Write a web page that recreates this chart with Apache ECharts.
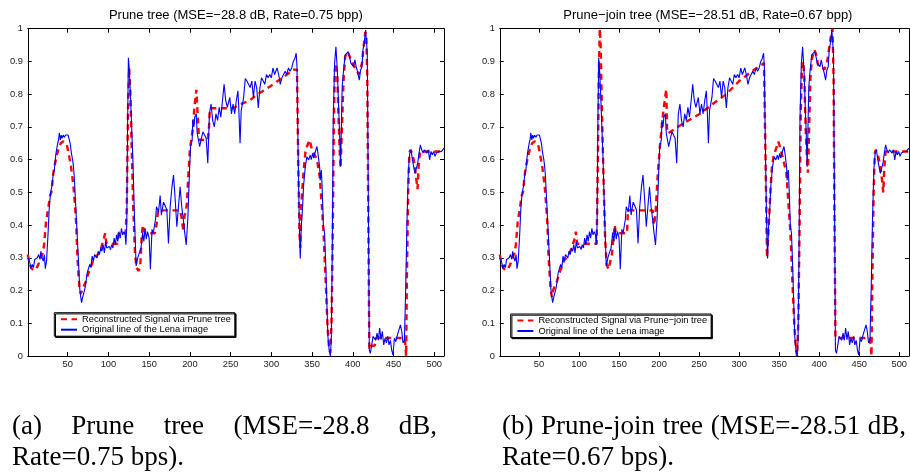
<!DOCTYPE html>
<html>
<head>
<meta charset="utf-8">
<script src="https://cdn.jsdelivr.net/npm/echarts@6/dist/echarts.min.js"></script>
<style>html,body{margin:0;padding:0;background:#fff;}#c{width:910px;height:472px;}</style>
</head>
<body>
<div id="c"></div>
<script>
// ---- data ----
const xTickValues = [50,100,150,200,250,300,350,400,450,500];
const panelTitles = ['Prune tree (MSE=\u221228.8 dB, Rate=0.75 bpp)', 'Prune\u2212join tree (MSE=\u221228.51 dB, Rate=0.67 bpp)'];
const reconNames = ['Reconstructed Signal via Prune tree', 'Reconstructed Signal via Prune\u2212join tree'];
const origName = 'Original line of the Lena image';

// Original Lena line (same in both panels)
const origX = [1,3,5,6.5,8,9.5,11,12.7,14.3,16,17,18.5,20,21.3,22.5,24,25.8,27.4,29,30.7,32,33.6,35.6,37.7,38.8,39.7,41,42,43,44.5,46,47.5,49,50.5,52,53,54.5,56,57,58,59,61,63,64.8,66,67,68,69,70,71.5,72.5,74,75.5,77,78.5,80,81.5,83,84.5,86,87.5,89,90.5,92,93.5,95,96.5,98,99.5,101,102.5,104,105.5,107,108.5,110,111.5,113,114.5,116,117.5,119,120.5,121.5,122.5,123.5,124.5,125.5,127,128.5,130,132,134,136,138,140,142,143.5,145,146.5,148,150,151.5,153.5,155,157.8,159,160.5,161.5,163.5,165,167.6,169.5,171.7,173.7,175.8,177.9,179.9,182,184,186,188,190,192,193.5,195.5,197.5,199.6,200.8,202.8,203.6,204.9,206,207.8,209,210.5,212,213.7,216,218,220,222,224,226,228,230,232,234,236,238,240,242,244,246,249,251,253,255,257,259,260,261.6,263,266,268,270,272,274,276,278,280,282,284,286,288,290,292,294,296,298,300,302,304,307,309,311,313,315,317,319,321,323,325,327,329,330.5,331.5,332.3,333.5,334.7,335.5,336.8,338.4,339.6,341.7,343.7,345.8,347.8,349,350.7,351.9,354,356,357.2,359.3,360,361.4,362.3,364,365.4,367,368.2,369.5,371,372.4,373.6,374.8,376,377.7,379.3,381,382.6,383.8,385,385.9,387,388.7,390.7,392.8,394.4,396,397.7,399.3,401,402.6,404.2,406.3,408,409.6,411.3,412.5,414,415.8,416.6,417.8,419,420.3,421.6,423.2,424.9,426.5,428,429.8,431.4,433,434.7,436.3,438,439.6,441.3,442.9,444.5,446.2,447.8,449.4,451.1,452.7,454.3,456.4,458.5,460.1,461.7,463.4,465,466.6,468.3,469.9,471.5,473.2,474.8,476.4,478,479.7,481.3,483,484.6,486.2,487.8,489.5,491,492.7,494.4,496,497.7,499.3,501,502.6,504.2,505.8,507.5,509,510.7,512];
const origY = [0.30,0.29,0.267,0.28,0.27,0.295,0.29,0.30,0.31,0.295,0.32,0.30,0.29,0.31,0.267,0.29,0.37,0.456,0.50,0.52,0.55,0.57,0.62,0.65,0.66,0.682,0.66,0.675,0.665,0.675,0.668,0.675,0.67,0.675,0.67,0.65,0.62,0.60,0.58,0.55,0.50,0.40,0.30,0.205,0.18,0.163,0.175,0.17,0.195,0.21,0.205,0.255,0.25,0.28,0.27,0.305,0.29,0.31,0.316,0.30,0.32,0.31,0.33,0.32,0.34,0.315,0.35,0.33,0.325,0.335,0.325,0.34,0.33,0.36,0.34,0.37,0.35,0.38,0.36,0.39,0.37,0.38,0.37,0.34,0.40,0.70,0.911,0.88,0.80,0.70,0.60,0.42,0.275,0.30,0.316,0.33,0.377,0.35,0.39,0.357,0.38,0.36,0.265,0.387,0.375,0.417,0.456,0.46,0.44,0.49,0.43,0.47,0.46,0.447,0.344,0.456,0.515,0.553,0.476,0.395,0.456,0.517,0.456,0.415,0.38,0.339,0.42,0.568,0.64,0.66,0.721,0.70,0.73,0.74,0.68,0.66,0.64,0.66,0.685,0.68,0.665,0.589,0.74,0.77,0.72,0.70,0.74,0.72,0.76,0.73,0.78,0.83,0.78,0.76,0.79,0.74,0.77,0.74,0.78,0.81,0.76,0.65,0.75,0.79,0.848,0.84,0.84,0.82,0.84,0.79,0.84,0.82,0.758,0.82,0.85,0.84,0.83,0.86,0.85,0.86,0.85,0.88,0.86,0.88,0.86,0.83,0.85,0.86,0.87,0.86,0.88,0.87,0.88,0.90,0.91,0.925,0.884,0.72,0.52,0.364,0.298,0.395,0.456,0.52,0.578,0.609,0.599,0.614,0.60,0.619,0.605,0.624,0.64,0.62,0.578,0.537,0.568,0.52,0.395,0.375,0.263,0.16,0.059,0.018,0.0,0.048,0.314,0.72,0.894,0.945,0.874,0.762,0.68,0.578,0.69,0.823,0.874,0.92,0.915,0.93,0.915,0.894,0.894,0.884,0.905,0.884,0.864,0.843,0.874,0.884,0.935,0.955,0.996,1.0,0.925,0.52,0.018,0.008,0.01,0.06,0.064,0.048,0.07,0.048,0.085,0.05,0.075,0.034,0.054,0.04,0.06,0.034,0.048,0.018,0.003,0.054,0.044,0.06,0.064,0.095,0.075,0.04,0.048,0.211,0.416,0.568,0.619,0.63,0.599,0.578,0.558,0.56,0.589,0.619,0.645,0.63,0.62,0.63,0.625,0.62,0.63,0.599,0.625,0.615,0.625,0.61,0.62,0.615,0.625,0.62,0.625,0.63,0.635];

// Reconstruction, prune tree (panel a)
const pruneX = [1,3,5,8,11,14,17,19.5,21,23.4,26,28.3,30,32.4,35,37.3,39,41.4,44.7,47,49,51,54,57,59,60.5,62,64.3,66,67.5,69,72,75,78,81,84,87,91,94,96,97.5,100,106,111,112.5,116,121,122.5,124,125.4,127,128.6,130.5,132.7,134.5,136.8,139,141,142.5,144,147,157,159,161,170,180,188,190,192,193.5,195,196.5,198,200,202.8,204,205.5,207,208,209,210,211,212,222,223.5,224.5,253,263,273,283,294,305,315,323,326,331.5,333,334.5,335.5,337.2,339.5,341.7,343.7,347,350,352,356,359.3,362,364,367.4,369,371,372.4,374,375.6,376.8,378,379.3,381,382.6,384.3,385,386.7,388.7,390.7,393.6,396,398.9,401.8,405,407.1,409.2,411.3,413.3,415.4,416.6,417.8,419,420.3,422,427,428.5,440,450,460,464,465.5,466.5,468,469.5,470.7,472.8,475.6,478,479.5,481.3,483,512];
const pruneY = [0.31,0.285,0.27,0.262,0.265,0.28,0.30,0.315,0.34,0.41,0.45,0.49,0.50,0.56,0.595,0.62,0.635,0.65,0.656,0.655,0.645,0.62,0.58,0.52,0.46,0.40,0.30,0.21,0.19,0.20,0.21,0.225,0.25,0.27,0.29,0.30,0.31,0.33,0.355,0.375,0.345,0.342,0.343,0.343,0.375,0.375,0.375,0.45,0.75,0.88,0.80,0.63,0.45,0.31,0.27,0.26,0.27,0.375,0.40,0.38,0.375,0.375,0.40,0.445,0.445,0.445,0.445,0.42,0.38,0.43,0.44,0.47,0.55,0.63,0.68,0.70,0.76,0.79,0.813,0.76,0.72,0.67,0.66,0.66,0.70,0.757,0.757,0.77,0.78,0.80,0.816,0.835,0.852,0.867,0.875,0.875,0.60,0.38,0.33,0.48,0.56,0.62,0.64,0.66,0.63,0.62,0.60,0.55,0.46,0.38,0.19,0.09,0.02,0.01,0.11,0.416,0.72,0.874,0.894,0.853,0.72,0.60,0.575,0.70,0.843,0.915,0.93,0.925,0.90,0.884,0.874,0.86,0.864,0.894,0.945,0.99,0.98,0.85,0.45,0.02,0.03,0.032,0.055,0.055,0.055,0.055,0.055,0.0,0.25,0.50,0.62,0.63,0.62,0.59,0.54,0.51,0.60,0.625,0.625];

// Reconstruction, prune-join tree (panel b)
const joinX = [1,3,5,8,11,14,17,19.5,21,23.4,26,28.3,30,32.4,35,37.3,39,41.4,44.7,47,49,51,54,57,59,60.5,62,64.3,66,67.5,69,72,75,78,81,84,87,91,94,96,97.5,100,110,122,123.5,125,126,127,128.6,130.5,132.7,134.5,136.8,139,141,143,144.5,146,152,160,161,175,192,193.6,195.5,197,198.5,201,204,207,209,210,211,230,251,267,284,300,316,331,333,334.8,337,339,341,343,345,349,352,355,357,359,362,364,367,369,371,372.4,374,375.6,377,378.5,380,381.5,383,385,386,387.5,389,391,394,396.5,398.5,401,404,406.5,408.5,410,413,415.5,416.6,418,419,420.3,430,440,450,463.5,465.3,466.5,468,469.5,470.7,472.8,475.6,478,480,481.5,483,512];
const joinY = [0.31,0.285,0.27,0.262,0.265,0.28,0.30,0.315,0.34,0.41,0.45,0.49,0.50,0.56,0.595,0.62,0.635,0.65,0.656,0.655,0.645,0.62,0.58,0.52,0.46,0.40,0.30,0.21,0.18,0.20,0.21,0.225,0.25,0.27,0.29,0.30,0.31,0.33,0.355,0.38,0.345,0.342,0.343,0.343,0.60,0.90,1.0,0.95,0.75,0.55,0.35,0.28,0.265,0.27,0.31,0.36,0.40,0.375,0.375,0.375,0.445,0.445,0.445,0.40,0.43,0.50,0.56,0.64,0.72,0.78,0.815,0.69,0.68,0.71,0.74,0.77,0.80,0.84,0.87,0.895,0.60,0.30,0.40,0.50,0.58,0.61,0.625,0.655,0.63,0.60,0.58,0.56,0.45,0.38,0.20,0.09,0.02,0.0,0.11,0.42,0.75,0.88,0.90,0.85,0.70,0.59,0.56,0.70,0.85,0.91,0.935,0.92,0.89,0.88,0.88,0.875,0.88,0.90,0.95,0.99,1.0,0.85,0.45,0.055,0.055,0.055,0.055,0.055,0.0,0.25,0.50,0.62,0.63,0.62,0.59,0.55,0.50,0.58,0.625,0.625];

// captions (word-justified first lines)
const captionA1 = ['(a)', 'Prune', 'tree', '(MSE=-28.8', 'dB,'];
const captionA2 = 'Rate=0.75 bps).';
const captionB1 = ['(b)', 'Prune-join', 'tree', '(MSE=-28.51', 'dB,'];
const captionB2 = 'Rate=0.67 bps).';

// ---- layout ----
const zip = (xs, ys) => xs.map((x, i) => [x, ys[i]]);
const SANS = '"Liberation Sans", Arial, Helvetica, sans-serif';
const SERIF = '"Liberation Serif", "Times New Roman", serif';
const grids = [
  {left: 27.8, top: 28.7, width: 416.2, height: 327.3},
  {left: 499.8, top: 28.7, width: 416.2, height: 327.3}
];
const axisLineStyle = {color: '#000', width: 1};
const labelStyle = {fontSize: 9.3, color: '#1a1a1a', fontFamily: SANS};

const xAxes = [], yAxes = [];
grids.forEach((g, gi) => {
  ['bottom', 'top'].forEach(pos => {
    xAxes.push({
      type: 'value', gridIndex: gi, position: pos, min: 1, max: 512,
      axisLine: {show: true, lineStyle: axisLineStyle, onZero: false},
      axisTick: {show: true, inside: true, length: 4, lineStyle: axisLineStyle, customValues: xTickValues},
      axisLabel: {show: pos === 'bottom', margin: 4, customValues: xTickValues, ...labelStyle},
      splitLine: {show: false}
    });
  });
  ['left', 'right'].forEach(pos => {
    yAxes.push({
      type: 'value', gridIndex: gi, position: pos, min: 0, max: 1, interval: 0.1,
      axisLine: {show: true, lineStyle: axisLineStyle, onZero: false},
      axisTick: {show: true, inside: true, length: 4, lineStyle: axisLineStyle},
      axisLabel: {show: pos === 'left', margin: 5, formatter: v => String(parseFloat(v.toFixed(1))), ...labelStyle},
      splitLine: {show: false}
    });
  });
});

const reconData = [zip(pruneX, pruneY), zip(joinX, joinY)];
const origData = zip(origX, origY);
const series = [];
[0, 1].forEach(gi => {
  series.push({
    name: reconNames[gi], type: 'line', xAxisIndex: gi * 2, yAxisIndex: gi * 2,
    data: reconData[gi], symbol: 'none', showSymbol: false, z: 2,
    lineStyle: {color: '#ff0000', width: 2.4, type: [6, 4.5]}, itemStyle: {color: '#ff0000'}
  });
  series.push({
    name: origName, type: 'line', xAxisIndex: gi * 2, yAxisIndex: gi * 2,
    data: origData, symbol: 'none', showSymbol: false, z: 3,
    lineStyle: {color: '#0000ff', width: 1.1}, itemStyle: {color: '#0000ff'}
  });
});

const legendBase = {
  orient: 'vertical', itemWidth: 16, itemHeight: 8, itemGap: 1.5,
  padding: [2, 4, 2, 5.7], borderColor: '#000', borderWidth: 1, borderRadius: 0,
  backgroundColor: '#fff', shadowColor: '#000', shadowOffsetX: 1.2, shadowOffsetY: 1.2, shadowBlur: 0.01,
  itemStyle: {opacity: 0},
  lineStyle: {type: 'inherit'},
  textStyle: {fontSize: 9.3, color: '#000', fontFamily: SANS},
  selectedMode: false
};
const legends = [
  {...legendBase, left: 54.3, top: 312.7, data: [reconNames[0], origName]},
  {...legendBase, left: 510.7, top: 314, data: [reconNames[1], origName]}
];

const graphics = [];
const titleX = [27.8 + 416.2 / 2, 499.8 + 416.2 / 2];
panelTitles.forEach((t, i) => graphics.push({
  type: 'text', x: titleX[i], y: 15.7,
  style: {text: t, fill: '#000', font: '13px ' + SANS, textAlign: 'center', textVerticalAlign: 'middle'}
}));

// justified caption lines: distribute words between a start and end x
const capFont = '27px ' + SERIF;
const mctx = document.createElement('canvas').getContext('2d');
mctx.font = capFont;
function justify(words, x0, x1, y) {
  const ws = words.map(w => mctx.measureText(w).width);
  const total = ws.reduce((a, b) => a + b, 0);
  const gap = (x1 - x0 - total) / (words.length - 1);
  let x = x0;
  words.forEach((w, i) => {
    graphics.push({type: 'text', x: x, y: y,
      style: {text: w, fill: '#000', font: capFont, textAlign: 'left', textVerticalAlign: 'middle'}});
    x += ws[i] + gap;
  });
}
justify(captionA1, 12, 437, 427);
justify(captionB1, 502, 906, 427);
graphics.push({type: 'text', x: 12, y: 458, style: {text: captionA2, fill: '#000', font: capFont, textAlign: 'left', textVerticalAlign: 'middle'}});
graphics.push({type: 'text', x: 502, y: 458, style: {text: captionB2, fill: '#000', font: capFont, textAlign: 'left', textVerticalAlign: 'middle'}});

const chart = echarts.init(document.getElementById('c'), null, {renderer: 'canvas'});
chart.setOption({
  backgroundColor: '#fff',
  animation: false,
  grid: grids,
  xAxis: xAxes,
  yAxis: yAxes,
  legend: legends,
  series: series,
  graphic: graphics
});
</script>
</body>
</html>
